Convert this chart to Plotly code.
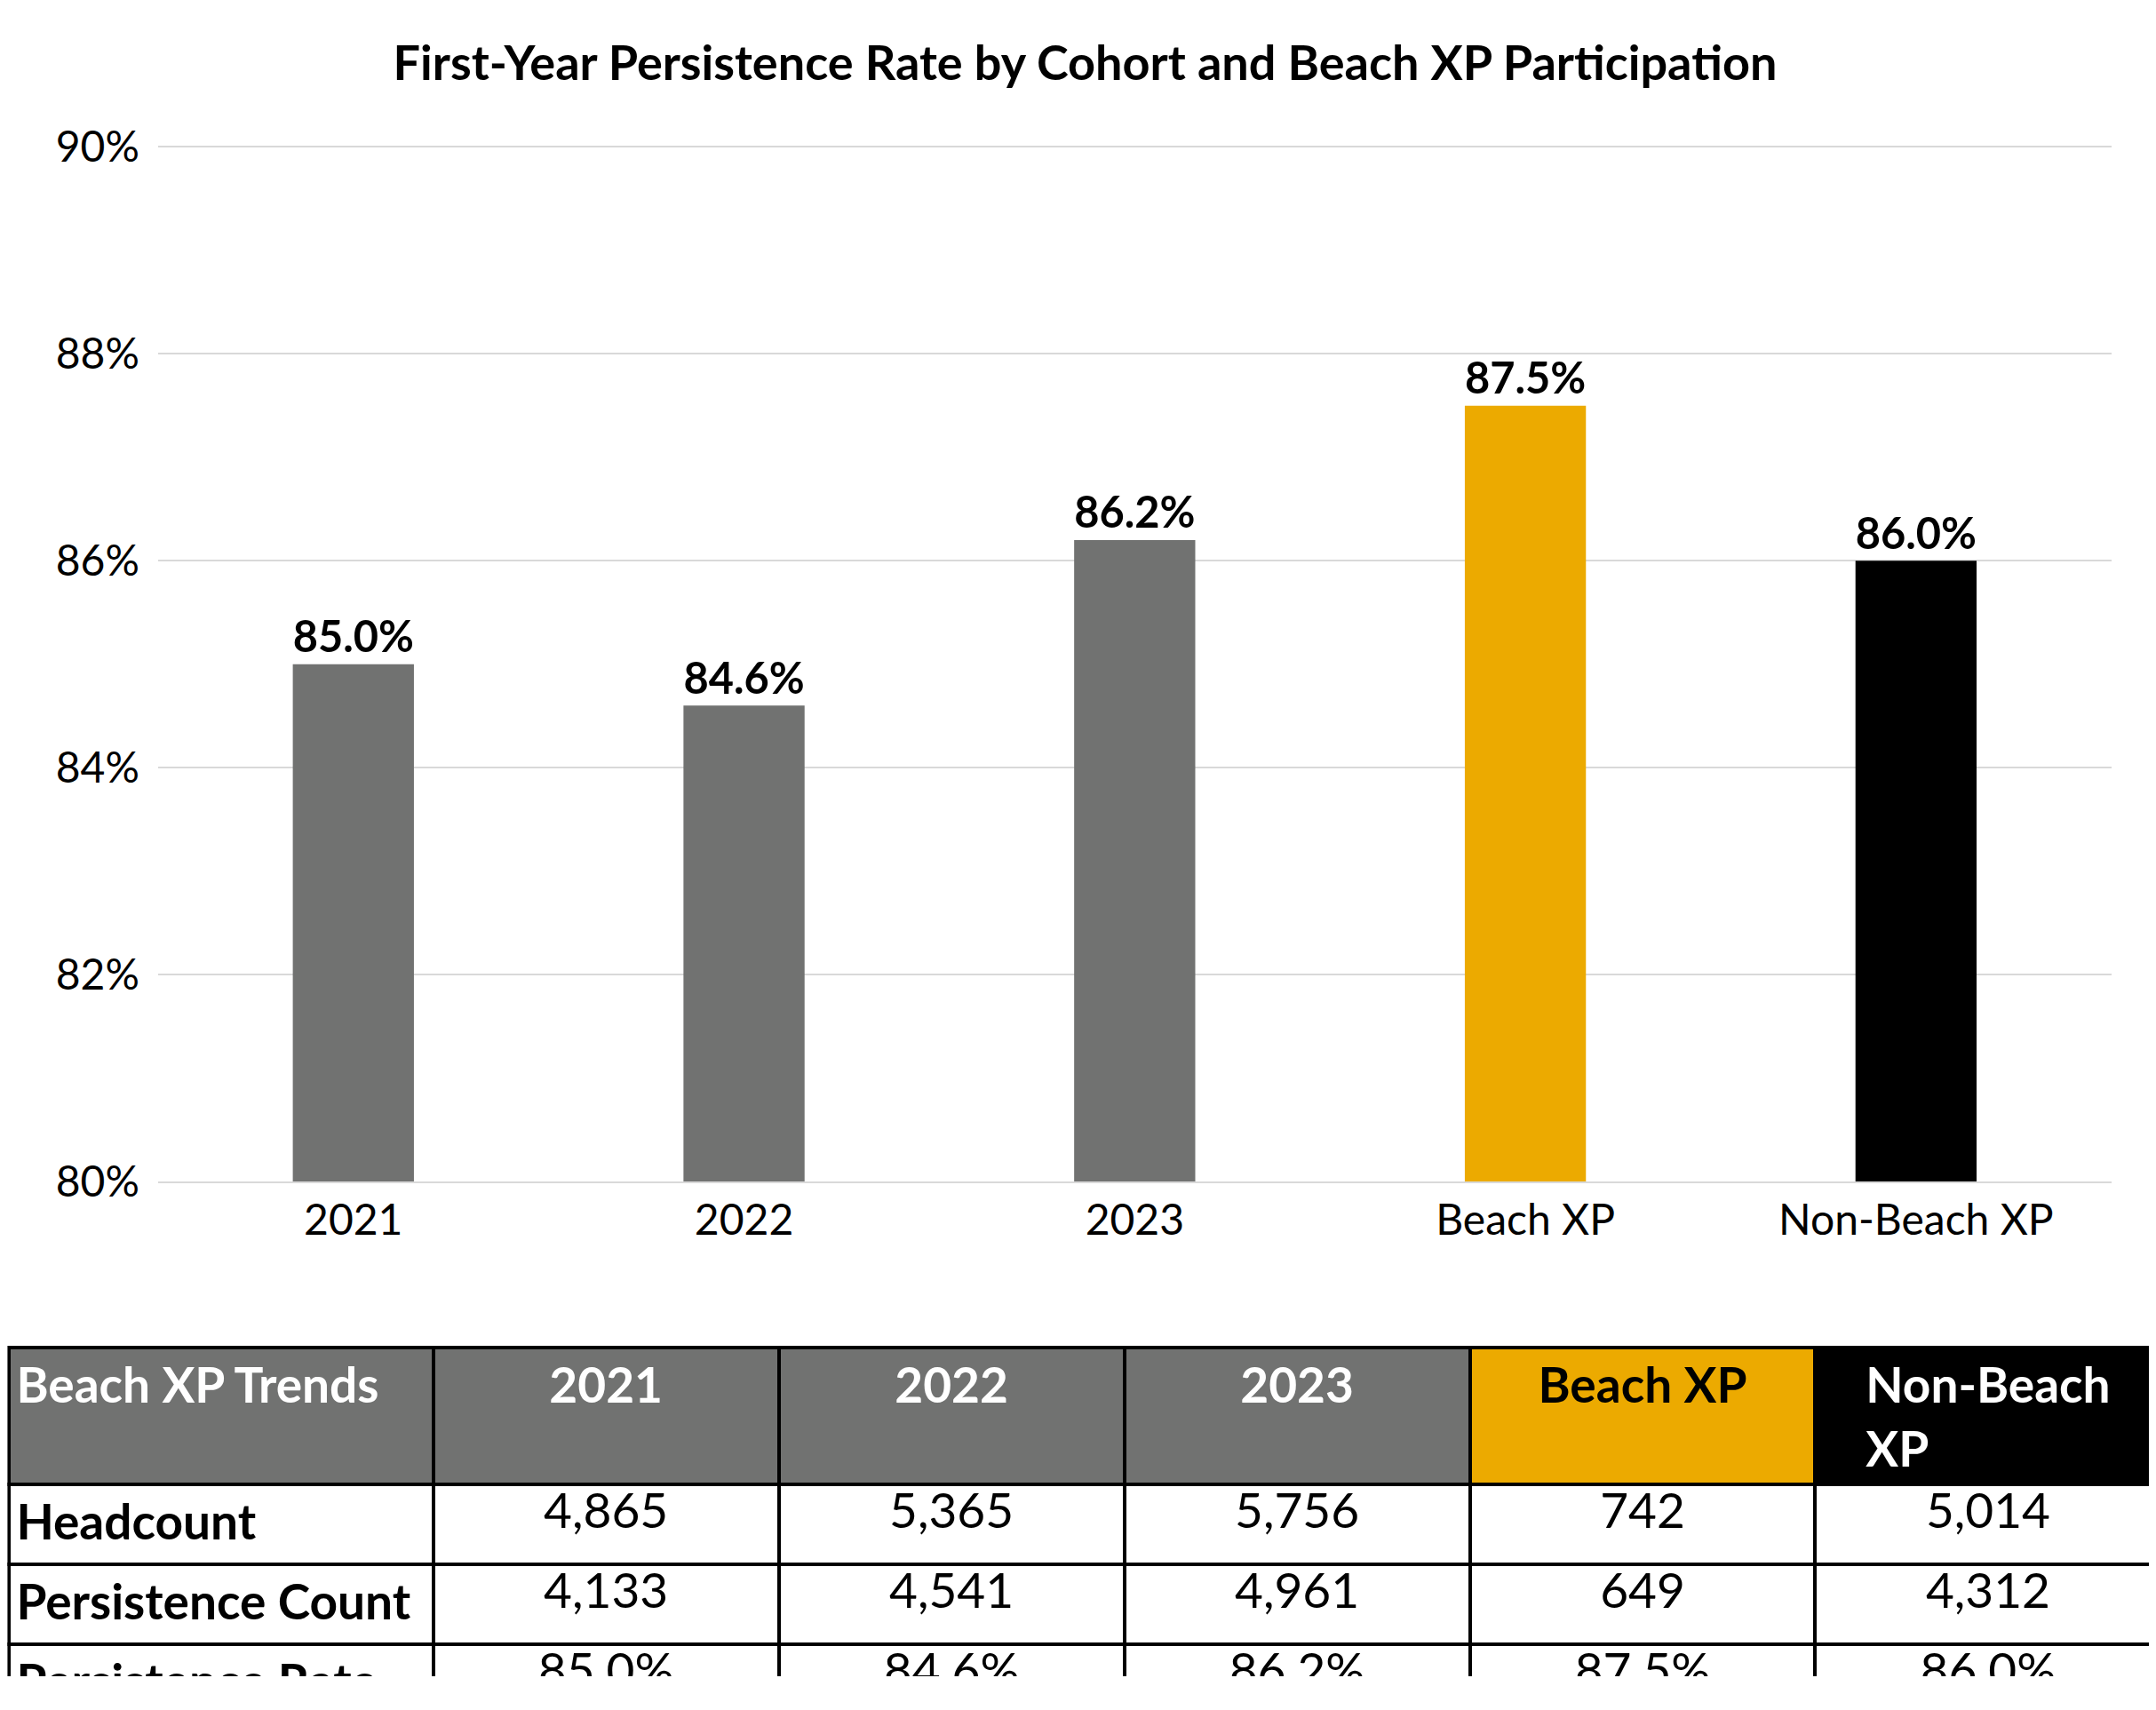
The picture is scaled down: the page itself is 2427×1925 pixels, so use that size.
import plotly.graph_objects as go

categories = ["2021", "2022", "2023", "Beach XP", "Non-Beach XP"]
rates = [85.0, 84.6, 86.2, 87.5, 86.0]
headcount = ["4,865", "5,365", "5,756", "742", "5,014"]
persist_count = ["4,133", "4,541", "4,961", "649", "4,312"]
persist_rate = ["85.0%", "84.6%", "86.2%", "87.5%", "86.0%"]
bar_colors = ["#717271", "#717271", "#717271", "#ECAA00", "#000000"]
row_labels = ["Headcount", "Persistence Count", "Persistence Rate"]

FONT = "Lato"

fig = go.Figure()

fig.add_trace(go.Bar(
    x=categories,
    y=rates,
    marker=dict(color=bar_colors, line=dict(width=0)),
    width=0.31,
    text=[f"{v:.1f}%" for v in rates],
    textposition="outside",
    textfont=dict(family=FONT, size=50, color="#000000"),
    texttemplate="<b>%{text}</b>",
    cliponaxis=False,
    showlegend=False,
))

header_fill = ["#717271", "#717271", "#717271", "#717271", "#ECAA00", "#000000"]
header_font = ["white", "white", "white", "white", "black", "white"]

fig.add_trace(go.Table(
    domain=dict(x=[0.001, 0.999], y=[0.010, 0.208]),
    columnwidth=[308, 251, 251, 251, 251, 251],
    header=dict(
        values=["<b>Beach XP Trends</b>"] + [f"<b>{c}</b>" for c in categories],
        fill_color=header_fill,
        font=dict(family=FONT, size=55, color=header_font),
        align=["left", "center", "center", "center", "center", "center"],
        line=dict(color="black", width=4),
        height=96,
    ),
    cells=dict(
        values=[
            [f"<b>{r}</b>" for r in row_labels],
            *[[headcount[i], persist_count[i], persist_rate[i]] for i in range(5)],
        ],
        fill_color="white",
        font=dict(family=FONT, size=55, color="black"),
        align=["left", "center", "center", "center", "center", "center"],
        line=dict(color="black", width=4),
        height=90,
    ),
))

fig.update_layout(
    width=2427,
    height=1925,
    margin=dict(l=0, r=0, t=0, b=0),
    paper_bgcolor="white",
    plot_bgcolor="white",
    font=dict(family=FONT, color="#000000"),
    title=dict(
        text="<b>First-Year Persistence Rate by Cohort and Beach XP Participation</b>",
        x=0.5, xanchor="center", y=0.967, yanchor="middle",
        font=dict(family=FONT, size=54, color="#000000"),
    ),
    xaxis=dict(
        domain=[0.070, 0.976],
        tickfont=dict(family=FONT, size=48),
        showline=True, linecolor="#d9d9d9", linewidth=2,
        ticks="",
    ),
    yaxis=dict(
        domain=[0.308, 0.932],
        range=[80, 90.02],
        tickvals=[80, 82, 84, 86, 88, 90],
        ticktext=["80%", "82%", "84%", "86%", "88%", "90%"],
        tickfont=dict(family=FONT, size=48),
        gridcolor="#d9d9d9", gridwidth=2,
        zeroline=False,
        ticklabelstandoff=20,
    ),
)

fig.write_html("out.html")
